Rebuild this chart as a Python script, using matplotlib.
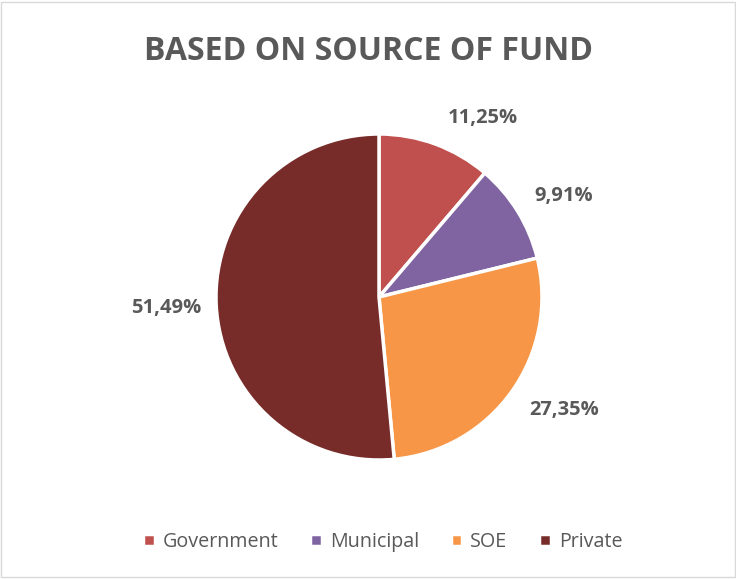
import numpy as np
import matplotlib
matplotlib.use('Agg')
import matplotlib.pyplot as plt
from matplotlib.patches import Rectangle

# Data
categories = ['Government', 'Municipal', 'SOE', 'Private']
values = [11.25, 9.91, 27.35, 51.49]
labels = ['11,25%', '9,91%', '27,35%', '51,49%']
colors = ['#C0504D', '#8064A2', '#F79646', '#772C2A']

text_color = '#595959'
plt.rcParams['font.family'] = ['Open Sans', 'DejaVu Sans']

fig = plt.figure(figsize=(7.36, 5.79), dpi=100)
fig.patch.set_facecolor('white')

# chart border
fig.add_artist(Rectangle((0.002, 0.004), 0.996, 0.992, transform=fig.transFigure,
                         fill=False, edgecolor='#D9D9D9', linewidth=1))

# pie axes centred at (379, 297) px with radius 163 px
cx, cy, r = 379 / 736, 1 - 297 / 579, 163
ax = fig.add_axes([cx - r / 736, cy - r / 579, 2 * r / 736, 2 * r / 579])
wedges, _ = ax.pie(values, colors=colors, startangle=90, counterclock=False,
                   wedgeprops=dict(edgecolor='white', linewidth=2.5))
ax.set_xlim(-1, 1)
ax.set_ylim(-1, 1)
ax.set_aspect('equal')

# data labels outside the slices (distance, angle shift from slice middle)
dists = [1.27, 1.29, 1.33, 1.31]
shifts = [-10, -3, 4, 0.3]
for w, lab, d, s in zip(wedges, labels, dists, shifts):
    ang = np.deg2rad((w.theta1 + w.theta2) / 2 + s)
    ax.text(d * np.cos(ang), d * np.sin(ang), lab, ha='center', va='center',
            fontsize=14.5, fontweight='bold', color=text_color, clip_on=False)

fig.text(0.5, 1 - 51 / 579, 'BASED ON SOURCE OF FUND', ha='center', va='center',
         fontsize=23, fontweight='bold', color=text_color)

fig.legend(wedges, categories, loc='center', bbox_to_anchor=(0.52, 1 - 542 / 579),
           ncol=4, frameon=False, fontsize=14.2, labelcolor=text_color,
           handlelength=0.6, handleheight=0.6, handletextpad=0.4, columnspacing=1.6)

fig.savefig('out.png', dpi=100)
